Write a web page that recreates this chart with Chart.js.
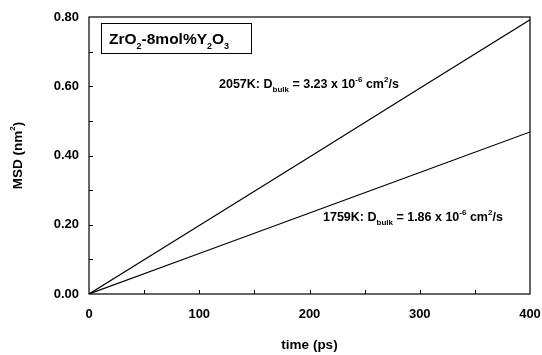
<!DOCTYPE html>
<html>
<head>
<meta charset="utf-8">
<script src="https://cdn.jsdelivr.net/npm/chart.js@4/dist/chart.umd.min.js"></script>
<style>
html,body{margin:0;padding:0;background:#fff;}
#wrap{width:542px;height:355px;position:relative;}
</style>
</head>
<body>
<div id="wrap"><canvas id="c" width="542" height="355"></canvas></div>
<script>
const timePs = [0, 100, 200, 300, 400];
const msd2057K = [0, 0.198, 0.396, 0.594, 0.792];
const msd1759K = [0, 0.117, 0.234, 0.351, 0.468];
const xTicks = [0, 100, 200, 300, 400];
const yTicks = [0.00, 0.20, 0.40, 0.60, 0.80];

const FONT = '"Liberation Sans", Arial, sans-serif';

const toPts = (xs, ys) => xs.map((x, i) => ({x: x, y: ys[i]}));

const decor = {
  id: 'decor',
  afterDraw(chart) {
    const ctx = chart.ctx;
    const a = chart.chartArea;
    const xs = chart.scales.x, ys = chart.scales.y;
    ctx.save();
    ctx.strokeStyle = '#000';
    ctx.lineWidth = 1.2;
    ctx.strokeRect(a.left, a.top, a.right - a.left, a.bottom - a.top);
    ctx.lineWidth = 1;
    ctx.beginPath();
    for (let v = 50; v < 400; v += 50) {
      const px = Math.round(xs.getPixelForValue(v)) + 0.5;
      ctx.moveTo(px, a.bottom); ctx.lineTo(px, a.bottom - 4);
    }
    for (let k = 1; k < 8; k++) {
      const py = Math.round(ys.getPixelForValue(k / 10)) + 0.5;
      ctx.moveTo(a.left, py); ctx.lineTo(a.left + 4, py);
    }
    ctx.stroke();

    ctx.fillStyle = '#000';
    ctx.font = 'bold 13.5px ' + FONT;
    ctx.textAlign = 'center';
    ctx.textBaseline = 'middle';
    ctx.fillText('time (ps)', (a.left + a.right) / 2, 345);

    ctx.save();
    ctx.translate(18, (a.top + a.bottom) / 2);
    ctx.rotate(-Math.PI / 2);
    ctx.font = 'bold 13.5px ' + FONT;
    const t1 = 'MSD (nm', t2 = ')';
    const w1 = ctx.measureText(t1).width;
    ctx.font = 'bold 8px ' + FONT;
    const ws = ctx.measureText('2').width;
    ctx.font = 'bold 13.5px ' + FONT;
    const w2 = ctx.measureText(t2).width;
    let sx = -(w1 + ws + w2) / 2;
    ctx.textAlign = 'left';
    ctx.fillText(t1, sx, 0); sx += w1;
    ctx.font = 'bold 8px ' + FONT;
    ctx.fillText('2', sx, -5); sx += ws;
    ctx.font = 'bold 13.5px ' + FONT;
    ctx.fillText(t2, sx, 0);
    ctx.restore();

    function rich(parts, x, y, size) {
      ctx.textAlign = 'left';
      ctx.textBaseline = 'alphabetic';
      let cx = x;
      for (const [t, k] of parts) {
        if (k === 'n') {
          ctx.font = 'bold ' + size + 'px ' + FONT;
          ctx.fillText(t, cx, y);
        } else if (k === 'sub') {
          ctx.font = 'bold ' + Math.round(size * 0.6) + 'px ' + FONT;
          ctx.fillText(t, cx, y + size * 0.3);
        } else {
          ctx.font = 'bold ' + Math.round(size * 0.6) + 'px ' + FONT;
          ctx.fillText(t, cx, y - size * 0.45);
        }
        cx += ctx.measureText(t).width;
      }
      return cx - x;
    }

    ctx.lineWidth = 1;
    ctx.strokeRect(101.5, 23.5, 150, 30);
    rich([['ZrO', 'n'], ['2', 'sub'], ['-8mol%Y', 'n'], ['2', 'sub'], ['O', 'n'], ['3', 'sub']], 109, 44, 15.5);

    rich([['2057K: D', 'n'], ['bulk', 'sub'], [' = 3.23 x 10', 'n'], ['-6', 'sup'], [' cm', 'n'], ['2', 'sup'], ['/s', 'n']], 219, 88, 12.5);
    rich([['1759K: D', 'n'], ['bulk', 'sub'], [' = 1.86 x 10', 'n'], ['-6', 'sup'], [' cm', 'n'], ['2', 'sup'], ['/s', 'n']], 323, 221, 12.5);
    ctx.restore();
  }
};

new Chart(document.getElementById('c'), {
  type: 'scatter',
  data: {
    datasets: [
      {label: '2057K', data: toPts(timePs, msd2057K), showLine: true, borderColor: '#000', borderWidth: 1.2, pointRadius: 0, fill: false},
      {label: '1759K', data: toPts(timePs, msd1759K), showLine: true, borderColor: '#000', borderWidth: 1.2, pointRadius: 0, fill: false}
    ]
  },
  options: {
    responsive: false,
    animation: false,
    layout: {padding: {top: 17, right: 12, left: 0, bottom: 0}},
    plugins: {legend: {display: false}, tooltip: {enabled: false}},
    scales: {
      x: {
        type: 'linear', min: 0, max: 400,
        afterBuildTicks: s => { s.ticks = xTicks.map(v => ({value: v})); },
        afterFit: s => { s.height = 61; s.paddingLeft = 0; s.paddingRight = 0; },
        grid: {display: false, drawTicks: false},
        border: {display: false},
        ticks: {color: '#000', font: {family: FONT, size: 13, weight: 'bold'}, padding: 13, maxRotation: 0}
      },
      y: {
        type: 'linear', min: 0, max: 0.8,
        afterBuildTicks: s => { s.ticks = yTicks.map(v => ({value: v})); },
        afterFit: s => { s.width = 89; s.paddingTop = 0; s.paddingBottom = 0; },
        grid: {display: false, drawTicks: false},
        border: {display: false},
        ticks: {color: '#000', font: {family: FONT, size: 13, weight: 'bold'}, padding: 10, callback: v => Number(v).toFixed(2)}
      }
    }
  },
  plugins: [decor]
});
</script>
</body>
</html>
